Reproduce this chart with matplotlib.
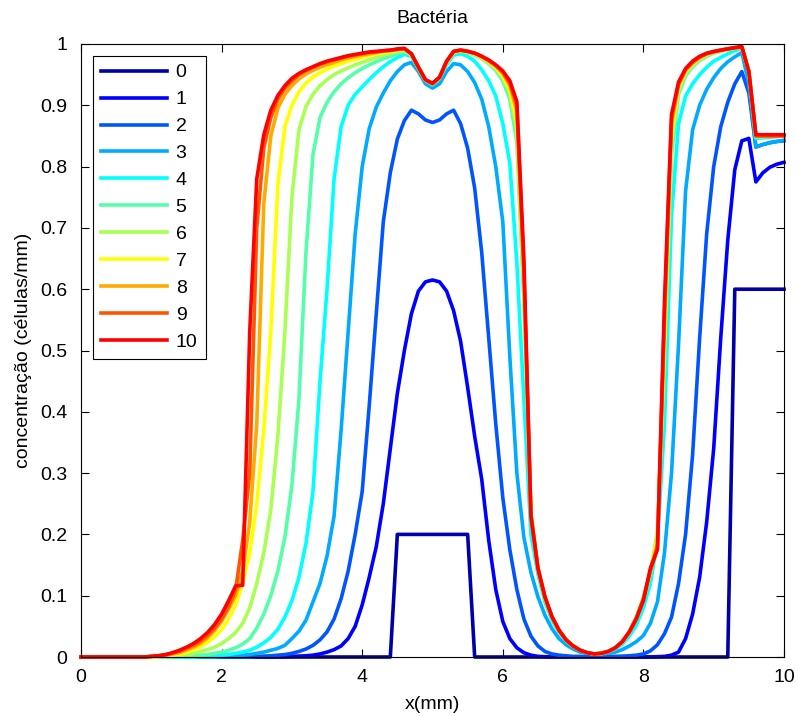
import numpy as np
import matplotlib
matplotlib.use("Agg")
import matplotlib.pyplot as plt

plt.rcParams['font.family'] = ['Liberation Sans', 'DejaVu Sans']

# spatial grid (mm), 0.1 mm spacing
x_mm = np.arange(101) / 10.0

# bacterial concentration profiles (células/mm) at successive times
bact_t0 = [0.0] * 45 + [0.2] * 11 + [0.0] * 37 + [0.6] * 8

bact_t1 = [0.0] * 30 + [
    0.001, 0.0015, 0.002, 0.003, 0.005, 0.008, 0.012, 0.018, 0.030, 0.050,
    0.085, 0.130, 0.180, 0.250, 0.340, 0.430, 0.500, 0.560, 0.597, 0.612,
    0.615, 0.612, 0.597, 0.565, 0.515, 0.440, 0.360, 0.290, 0.190, 0.110,
    0.058, 0.030, 0.015, 0.007, 0.003, 0.001, 0.0005, 0.0, 0.0, 0.0] + [0.0] * 12 + [
    0.0005, 0.001, 0.003, 0.008, 0.030, 0.070, 0.130, 0.220,
    0.340, 0.520, 0.680, 0.795, 0.842, 0.846, 0.775, 0.790, 0.799, 0.804, 0.807]

bact_t2 = [0.0] * 25 + [
    0.001, 0.0015, 0.002, 0.003, 0.004,
    0.006, 0.009, 0.013, 0.019, 0.028, 0.041, 0.062, 0.095, 0.140, 0.200,
    0.270, 0.410, 0.560, 0.710, 0.790, 0.845, 0.875, 0.892, 0.886, 0.876,
    0.872, 0.876, 0.886, 0.892, 0.870, 0.830, 0.765, 0.660, 0.520, 0.380,
    0.260, 0.175, 0.110, 0.062, 0.034, 0.018, 0.009, 0.005, 0.003, 0.002,
    0.001, 0.001, 0.001, 0.001, 0.001, 0.001, 0.001, 0.0015, 0.002, 0.003,
    0.005, 0.010, 0.020, 0.038, 0.065, 0.120, 0.200, 0.330, 0.520, 0.690,
    0.800, 0.865, 0.905, 0.935, 0.955, 0.920, 0.832, 0.836, 0.839, 0.841, 0.842]

bact_t3 = [0.0] * 20 + [
    0.001, 0.0015, 0.002, 0.003, 0.004, 0.006, 0.008, 0.011, 0.014, 0.019,
    0.030, 0.042, 0.060, 0.090, 0.120, 0.165, 0.230, 0.370, 0.530, 0.690,
    0.800, 0.862, 0.897, 0.920, 0.940, 0.955, 0.966, 0.970, 0.955, 0.935,
    0.928, 0.935, 0.955, 0.968, 0.966, 0.955, 0.937, 0.910, 0.865, 0.800,
    0.710, 0.490, 0.300, 0.195, 0.138, 0.098, 0.068, 0.046, 0.030, 0.020,
    0.013, 0.008, 0.006, 0.005, 0.005, 0.006, 0.008, 0.012, 0.018, 0.025,
    0.035, 0.055, 0.090, 0.170, 0.300, 0.510, 0.760, 0.860, 0.900, 0.926,
    0.945, 0.960, 0.971, 0.979, 0.986, 0.935, 0.832, 0.836, 0.839, 0.841, 0.843]

bact_t4 = [0.0] * 17 + [
    0.001, 0.0015, 0.002,
    0.003, 0.004, 0.006, 0.008, 0.011, 0.016, 0.023, 0.032, 0.045, 0.065,
    0.092, 0.130, 0.185, 0.270, 0.450, 0.600, 0.780, 0.865, 0.900, 0.918,
    0.930, 0.942, 0.953, 0.963, 0.971, 0.978, 0.983, 0.980, 0.960, 0.940,
    0.933, 0.943, 0.966, 0.982, 0.984, 0.980, 0.972, 0.958, 0.940, 0.915,
    0.870, 0.806, 0.643, 0.420, 0.200, 0.135, 0.090, 0.060, 0.040, 0.026,
    0.017, 0.011, 0.007, 0.005, 0.005, 0.008, 0.013, 0.021, 0.034, 0.052,
    0.080, 0.120, 0.190, 0.380, 0.720, 0.870, 0.915, 0.935, 0.950, 0.962,
    0.972, 0.978, 0.984, 0.989, 0.993, 0.955, 0.846, 0.847, 0.848, 0.849, 0.850]

bact_t5 = [0.0] * 14 + [
    0.001, 0.0015, 0.002, 0.003, 0.004, 0.006,
    0.008, 0.011, 0.015, 0.021, 0.030, 0.047, 0.070, 0.100, 0.140, 0.195,
    0.280, 0.420, 0.660, 0.820, 0.880, 0.905, 0.922, 0.935, 0.945, 0.953,
    0.960, 0.966, 0.971, 0.976, 0.980, 0.984, 0.987, 0.982, 0.961, 0.941,
    0.935, 0.945, 0.969, 0.986, 0.988, 0.986, 0.982, 0.976, 0.968, 0.957,
    0.940, 0.910, 0.840, 0.580, 0.230, 0.142, 0.095, 0.064, 0.042, 0.027,
    0.018, 0.011, 0.007, 0.005, 0.006, 0.009, 0.015, 0.024, 0.039, 0.061,
    0.092, 0.137, 0.205, 0.470, 0.820, 0.918, 0.948, 0.963, 0.973, 0.980,
    0.985, 0.988, 0.991, 0.993, 0.995, 0.955, 0.848, 0.849, 0.849, 0.850, 0.850]

bact_t6 = [0.0] * 12 + [
    0.001, 0.0015, 0.002, 0.004, 0.006, 0.009, 0.012, 0.016,
    0.022, 0.030, 0.040, 0.055, 0.080, 0.120, 0.170, 0.240, 0.360, 0.530,
    0.750, 0.860, 0.898, 0.918, 0.932, 0.942, 0.950, 0.956, 0.961, 0.966,
    0.970, 0.974, 0.978, 0.982, 0.985, 0.988, 0.990, 0.983, 0.961, 0.941,
    0.935, 0.945, 0.970, 0.987, 0.989, 0.987, 0.983, 0.977, 0.970, 0.960,
    0.945, 0.920, 0.860, 0.600, 0.235, 0.144, 0.096, 0.065, 0.043, 0.028,
    0.018, 0.011, 0.007, 0.005, 0.006, 0.009, 0.015, 0.025, 0.041, 0.063,
    0.094, 0.139, 0.200, 0.500, 0.840, 0.925, 0.952, 0.966, 0.975, 0.982,
    0.986, 0.989, 0.991, 0.993, 0.995, 0.955, 0.849, 0.849, 0.850, 0.850, 0.850]

bact_t7 = [0.0] * 11 + [
    0.001, 0.002, 0.003, 0.005, 0.008, 0.012, 0.017, 0.024, 0.033,
    0.045, 0.062, 0.085, 0.120, 0.170, 0.250, 0.370, 0.530, 0.770, 0.865,
    0.900, 0.922, 0.936, 0.946, 0.953, 0.959, 0.964, 0.968, 0.972, 0.975,
    0.978, 0.981, 0.984, 0.986, 0.988, 0.990, 0.991, 0.983, 0.961, 0.941,
    0.935, 0.945, 0.970, 0.987, 0.989, 0.987, 0.984, 0.978, 0.971, 0.962,
    0.948, 0.925, 0.875, 0.610, 0.235, 0.144, 0.096, 0.065, 0.043, 0.028,
    0.018, 0.011, 0.007, 0.005, 0.006, 0.009, 0.015, 0.025, 0.041, 0.064,
    0.095, 0.140, 0.195, 0.520, 0.855, 0.930, 0.955, 0.968, 0.977, 0.983,
    0.987, 0.990, 0.992, 0.994, 0.995, 0.955, 0.850, 0.850, 0.850, 0.850, 0.850]

bact_t8 = [0.0] * 10 + [
    0.001, 0.002, 0.003, 0.005, 0.007, 0.011, 0.016, 0.022, 0.031, 0.043,
    0.058, 0.078, 0.100, 0.140, 0.220, 0.380, 0.740, 0.850, 0.895, 0.918,
    0.932, 0.943, 0.951, 0.957, 0.962, 0.966, 0.970, 0.974, 0.977, 0.980,
    0.982, 0.984, 0.986, 0.988, 0.989, 0.991, 0.992, 0.984, 0.962, 0.941,
    0.935, 0.945, 0.971, 0.987, 0.990, 0.988, 0.985, 0.979, 0.972, 0.964,
    0.952, 0.932, 0.890, 0.620, 0.232, 0.144, 0.097, 0.065, 0.043, 0.028,
    0.018, 0.011, 0.007, 0.005, 0.006, 0.009, 0.015, 0.025, 0.041, 0.064,
    0.095, 0.141, 0.185, 0.540, 0.870, 0.933, 0.957, 0.969, 0.978, 0.984,
    0.987, 0.990, 0.992, 0.994, 0.995, 0.955, 0.850, 0.850, 0.850, 0.850, 0.850]

bact_t9 = [0.0] * 10 + [
    0.001, 0.002, 0.003, 0.006, 0.009, 0.014, 0.019, 0.026, 0.035, 0.047,
    0.062, 0.082, 0.110, 0.190, 0.300, 0.700, 0.830, 0.880, 0.910, 0.928,
    0.940, 0.950, 0.957, 0.962, 0.967, 0.971, 0.974, 0.977, 0.980, 0.982,
    0.984, 0.986, 0.987, 0.989, 0.990, 0.991, 0.992, 0.984, 0.962, 0.941,
    0.935, 0.945, 0.971, 0.988, 0.990, 0.988, 0.985, 0.980, 0.973, 0.965,
    0.954, 0.936, 0.900, 0.630, 0.232, 0.144, 0.097, 0.065, 0.043, 0.028,
    0.018, 0.011, 0.007, 0.005, 0.006, 0.009, 0.015, 0.025, 0.041, 0.064,
    0.095, 0.141, 0.180, 0.560, 0.878, 0.934, 0.958, 0.970, 0.978, 0.984,
    0.987, 0.990, 0.992, 0.994, 0.995, 0.955, 0.850, 0.850, 0.850, 0.850, 0.850]

bact_t10 = [0.0] * 10 + [
    0.001, 0.002, 0.004, 0.007, 0.011, 0.016, 0.022, 0.030, 0.040, 0.053,
    0.070, 0.092, 0.116, 0.117, 0.530, 0.780, 0.852, 0.892, 0.916, 0.932,
    0.944, 0.952, 0.958, 0.963, 0.968, 0.972, 0.975, 0.978, 0.981, 0.983,
    0.985, 0.987, 0.988, 0.989, 0.990, 0.992, 0.993, 0.984, 0.962, 0.942,
    0.936, 0.946, 0.972, 0.988, 0.990, 0.988, 0.985, 0.980, 0.974, 0.966,
    0.956, 0.940, 0.906, 0.650, 0.230, 0.145, 0.098, 0.066, 0.044, 0.028,
    0.018, 0.011, 0.007, 0.005, 0.006, 0.009, 0.015, 0.025, 0.041, 0.062,
    0.092, 0.145, 0.175, 0.580, 0.885, 0.938, 0.960, 0.972, 0.980, 0.985,
    0.988, 0.990, 0.992, 0.994, 0.996, 0.955, 0.852, 0.852, 0.852, 0.852, 0.852]

profiles = [bact_t0, bact_t1, bact_t2, bact_t3, bact_t4, bact_t5,
            bact_t6, bact_t7, bact_t8, bact_t9, bact_t10]
time_labels = ['0', '1', '2', '3', '4', '5', '6', '7', '8', '9', '10']

# jet colormap sampled at 11 levels
jet11 = [(0, 0, 2/3), (0, 0, 1), (0, 1/3, 1), (0, 2/3, 1), (0, 1, 1),
         (1/3, 1, 2/3), (2/3, 1, 1/3), (1, 1, 0), (1, 2/3, 0), (1, 1/3, 0),
         (1, 0, 0)]

x_ticks = [0, 2, 4, 6, 8, 10]
y_ticks = [0, 0.1, 0.2, 0.3, 0.4, 0.5, 0.6, 0.7, 0.8, 0.9, 1]
y_tick_labels = ['0', '0.1', '0.2', '0.3', '0.4', '0.5', '0.6', '0.7', '0.8', '0.9', '1']

FS = 14

fig = plt.figure(figsize=(7.98, 7.16), dpi=100)
ax = fig.add_axes([81 / 798, 59 / 716, 703 / 798, 613 / 716])

for vals, col, lab in zip(profiles, jet11, time_labels):
    ax.plot(x_mm, vals, color=col, lw=2.6, label=lab, clip_on=False)

ax.set_xlim(0, 10)
ax.set_ylim(0, 1)
ax.set_xticks(x_ticks)
ax.set_xticklabels([str(t) for t in x_ticks])
ax.set_yticks(y_ticks)
ax.set_yticklabels(y_tick_labels)
ax.tick_params(direction='in', length=6, width=0.8, labelsize=FS,
               top=True, right=True, colors='black')
ax.tick_params(axis='x', pad=9)
ax.tick_params(axis='y', pad=10)
for sp in ax.spines.values():
    sp.set_linewidth(0.8)
    sp.set_color('black')

ax.set_title('Bactéria', fontsize=FS, pad=15)
ax.set_xlabel('x(mm)', fontsize=FS, labelpad=7)
ax.set_ylabel('concentração (células/mm)', fontsize=FS, labelpad=6)

leg = ax.legend(loc='upper left', fontsize=FS, handlelength=3.4,
                handletextpad=0.45, labelspacing=0.48, borderaxespad=0.6,
                fancybox=False, framealpha=1, edgecolor='black',
                borderpad=0.42)
leg.get_frame().set_linewidth(0.8)

fig.savefig('out.png', dpi=100)
